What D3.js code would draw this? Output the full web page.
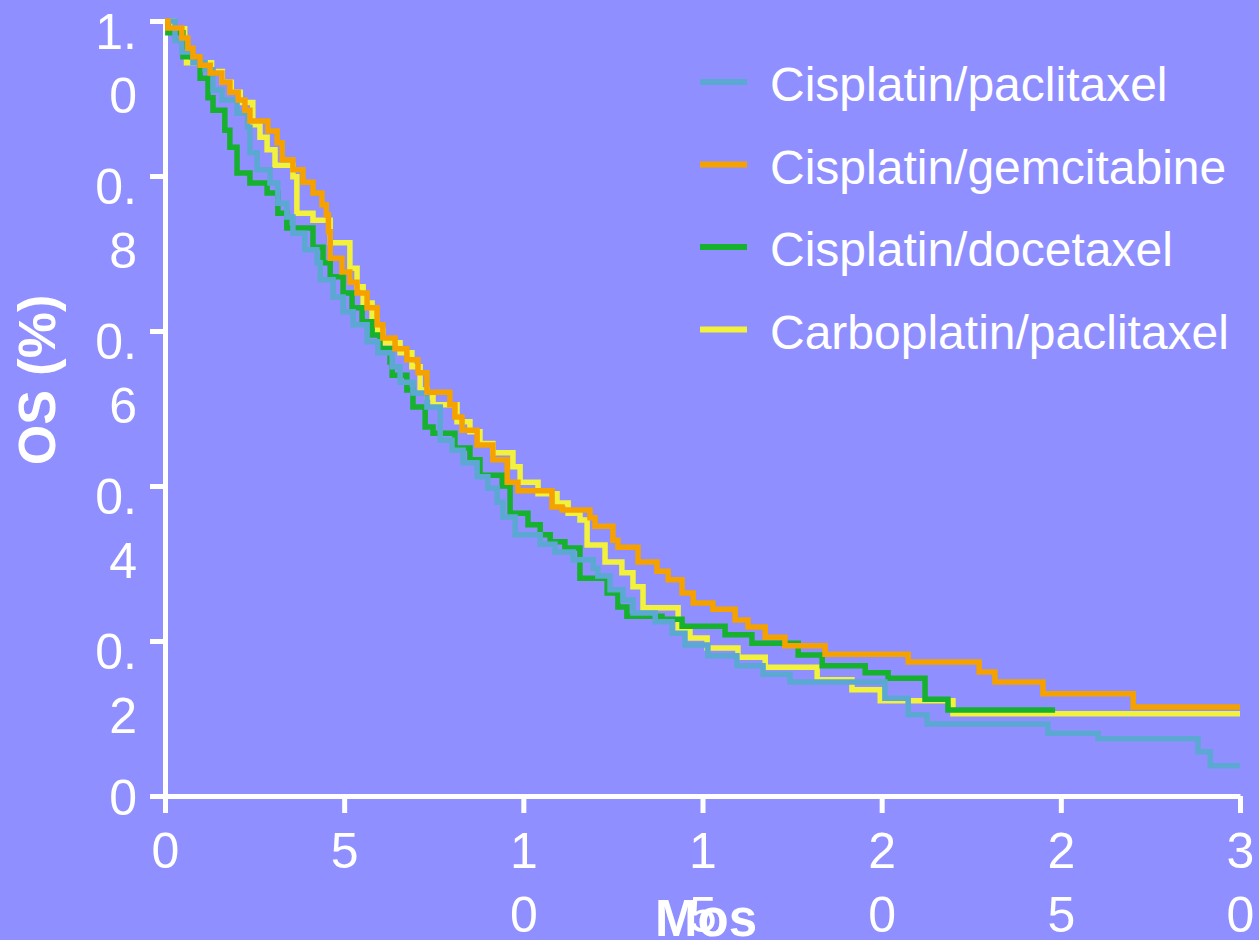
<!DOCTYPE html>
<html>
<head>
<meta charset="utf-8">
<script src="https://cdn.jsdelivr.net/npm/d3@7"></script>
<style>
    body { margin: 0; background: #8f8fff; }
    svg { display: block; }
</style>
</head>
<body>
<div id="chart"></div>
<script>
// OS Kaplan-Meier curves as [month, survival] steps

let seriesNames = ["Cisplatin/paclitaxel", "Cisplatin/gemcitabine", "Cisplatin/docetaxel", "Carboplatin/paclitaxel"];
let seriesColors = ["#5ba9d2", "#f5a100", "#16b12d", "#f2f23c"];
let seriesEnd = [30, 30, 24.84, 30];

let cisPacli = [
    [0.28, 0.975], [0.47, 0.960], [0.78, 0.946], [1.12, 0.937], [1.34, 0.911], [1.59, 0.898],
    [2.01, 0.881], [2.30, 0.863], [2.37, 0.830], [2.57, 0.808], [2.93, 0.791], [3.15, 0.765],
    [3.40, 0.747], [3.57, 0.726], [3.90, 0.705], [4.24, 0.688], [4.33, 0.666], [4.69, 0.644],
    [4.97, 0.625], [5.25, 0.608], [5.64, 0.586], [5.94, 0.572], [6.34, 0.554], [6.56, 0.534],
    [6.92, 0.520], [7.31, 0.502], [7.68, 0.459], [8.01, 0.446], [8.32, 0.430], [8.71, 0.412],
    [9.01, 0.397], [9.27, 0.379], [9.43, 0.360], [9.77, 0.337], [10.47, 0.325], [10.88, 0.315],
    [11.39, 0.305], [11.95, 0.294], [12.08, 0.284], [12.42, 0.266], [12.78, 0.253], [13.06, 0.236],
    [13.68, 0.225], [14.15, 0.210], [14.51, 0.195], [15.15, 0.181], [15.96, 0.168], [16.69, 0.157],
    [17.44, 0.147], [20.09, 0.126], [20.74, 0.105], [21.27, 0.093], [24.64, 0.081], [26.04, 0.074],
    [28.83, 0.057], [29.17, 0.039]
];

let cisGem = [
    [0.08, 0.991], [0.47, 0.978], [0.64, 0.965], [0.78, 0.954], [0.98, 0.943], [1.26, 0.933],
    [1.59, 0.921], [1.81, 0.908], [2.04, 0.898], [2.23, 0.885], [2.37, 0.871], [2.87, 0.858],
    [3.13, 0.843], [3.27, 0.821], [3.57, 0.808], [3.85, 0.792], [4.13, 0.778], [4.38, 0.763],
    [4.50, 0.750], [4.56, 0.728], [4.61, 0.694], [4.94, 0.676], [5.16, 0.663], [5.36, 0.649],
    [5.64, 0.630], [5.92, 0.608], [6.08, 0.591], [6.42, 0.577], [6.75, 0.563], [7.06, 0.546],
    [7.31, 0.521], [7.95, 0.505], [8.09, 0.489], [8.29, 0.472], [8.71, 0.453], [9.15, 0.434],
    [9.55, 0.405], [9.85, 0.394], [10.80, 0.373], [11.08, 0.369], [11.86, 0.359], [12.00, 0.348],
    [12.50, 0.330], [12.64, 0.321], [13.20, 0.302], [13.73, 0.290], [14.04, 0.279], [14.43, 0.262],
    [14.74, 0.249], [15.29, 0.241], [15.91, 0.227], [16.27, 0.218], [16.75, 0.205], [17.30, 0.194],
    [18.42, 0.183], [20.74, 0.173], [22.72, 0.160], [23.16, 0.147], [24.50, 0.132], [27.02, 0.115]
];

let cisDoce = [
    [0.08, 0.985], [0.50, 0.954], [0.98, 0.926], [1.20, 0.901], [1.34, 0.885], [1.67, 0.859],
    [1.81, 0.837], [2.01, 0.804], [2.37, 0.791], [2.85, 0.778], [3.15, 0.752], [3.40, 0.733],
    [4.13, 0.708], [4.41, 0.688], [4.61, 0.670], [4.97, 0.649], [5.22, 0.630], [5.50, 0.612],
    [5.78, 0.595], [6.00, 0.577], [6.28, 0.560], [6.34, 0.543], [6.75, 0.524], [6.92, 0.502],
    [7.26, 0.476], [7.48, 0.468], [8.09, 0.449], [8.51, 0.434], [8.79, 0.414], [9.41, 0.400],
    [9.63, 0.365], [10.13, 0.350], [10.47, 0.337], [10.75, 0.328], [11.16, 0.320], [11.58, 0.281],
    [12.34, 0.262], [12.64, 0.244], [12.89, 0.232], [13.87, 0.228], [14.43, 0.219], [15.63, 0.208],
    [16.38, 0.197], [17.67, 0.182], [18.34, 0.168], [19.54, 0.159], [20.18, 0.152], [21.21, 0.125],
    [21.85, 0.111]
];

let carboPacli = [
    [0.25, 0.990], [0.55, 0.972], [0.60, 0.946], [1.30, 0.935], [1.60, 0.921], [1.85, 0.908],
    [2.10, 0.895], [2.45, 0.866], [2.65, 0.850], [2.85, 0.834], [3.07, 0.814], [3.57, 0.799],
    [3.68, 0.752], [4.13, 0.743], [4.61, 0.714], [5.16, 0.681], [5.36, 0.657], [5.53, 0.636],
    [5.78, 0.614], [5.92, 0.601], [6.08, 0.585], [6.56, 0.572], [6.89, 0.554], [7.12, 0.524],
    [7.31, 0.515], [7.48, 0.505], [8.15, 0.483], [8.51, 0.470], [8.79, 0.455], [9.15, 0.443],
    [9.71, 0.425], [9.91, 0.405], [10.41, 0.390], [10.94, 0.378], [11.25, 0.365], [11.58, 0.356],
    [11.78, 0.324], [12.28, 0.302], [12.75, 0.288], [13.06, 0.270], [13.34, 0.243], [14.32, 0.214],
    [14.65, 0.204], [15.13, 0.191], [15.99, 0.179], [16.75, 0.166], [18.20, 0.150], [19.17, 0.137],
    [19.96, 0.123], [21.99, 0.106]
];

let seriesSteps = [cisPacli, cisGem, cisDoce, carboPacli];
// drawing order: yellow under green under blue under orange
let drawOrder = [3, 2, 0, 1];

let xTickValues = [0, 5, 10, 15, 20, 25, 30];
let xTickLines = [["0"], ["5"], ["1", "0"], ["1", "5"], ["2", "0"], ["2", "5"], ["3", "0"]];
let yTickValues = [0, 0.2, 0.4, 0.6, 0.8, 1.0];
let yTickLines = [["0"], ["0.", "2"], ["0.", "4"], ["0.", "6"], ["0.", "8"], ["1.", "0"]];

let xTitle = "Mos";
let yTitle = "OS (%)";

let width = 1259,
    height = 940;

let svg = d3.select("#chart")
    .append("svg")
    .attr("width", width)
    .attr("height", height);

svg.append("rect")
    .attr("width", width)
    .attr("height", height)
    .attr("fill", "#8f8fff");

let xScale = d3.scaleLinear().domain([0, 30]).range([165, 1240]);
let yScale = d3.scaleLinear().domain([0, 1]).range([796, 21]);

let font = "'Liberation Sans', Arial, sans-serif";

// axes
let xAxisG = svg.append("g")
    .attr("transform", "translate(0,796)")
    .call(d3.axisBottom(xScale).tickValues(xTickValues).tickSize(17).tickSizeOuter(0));

let yAxisG = svg.append("g")
    .attr("transform", "translate(165,0)")
    .call(d3.axisLeft(yScale).tickValues(yTickValues).tickSize(15).tickSizeOuter(0));

[xAxisG, yAxisG].forEach(function (g) {
    g.attr("font-family", font).attr("font-size", 50);
    g.selectAll("path, line").attr("stroke", "#fff").attr("stroke-width", 5);
    g.selectAll("text").attr("fill", "#fff");
});

xAxisG.selectAll(".tick text").each(function (d) {
    let lines = xTickLines[xTickValues.indexOf(d)];
    let t = d3.select(this).text(null).attr("dy", null).attr("y", null).attr("text-anchor", "middle");
    lines.forEach(function (s, j) {
        t.append("tspan").attr("x", 0).attr("y", 72 + j * 64).text(s);
    });
});

yAxisG.selectAll(".tick text").each(function (d) {
    let lines = yTickLines[yTickValues.indexOf(d)];
    let t = d3.select(this).text(null).attr("dy", null).attr("x", null).attr("text-anchor", "end");
    lines.forEach(function (s, j) {
        t.append("tspan").attr("x", -28).attr("y", (lines.length > 1 ? 27 : 18) + j * 64).text(s);
    });
});

// axis titles
svg.append("text")
    .attr("x", 706)
    .attr("y", 936)
    .attr("text-anchor", "middle")
    .attr("font-family", font)
    .attr("font-weight", "bold")
    .attr("font-size", 51)
    .attr("fill", "#fff")
    .text(xTitle);

svg.append("text")
    .attr("transform", "translate(55,380) rotate(-90)")
    .attr("text-anchor", "middle")
    .attr("font-family", font)
    .attr("font-weight", "bold")
    .attr("font-size", 52)
    .attr("fill", "#fff")
    .text(yTitle);

// curves
let line = d3.line()
    .curve(d3.curveStepAfter)
    .x(d => xScale(d[0]))
    .y(d => yScale(d[1]));

drawOrder.forEach(function (i) {
    let steps = seriesSteps[i];
    let pts = [[0, 1]].concat(steps, [[seriesEnd[i], steps[steps.length - 1][1]]]);
    svg.append("path")
        .datum(pts)
        .attr("fill", "none")
        .attr("stroke", seriesColors[i])
        .attr("stroke-width", 5.5)
        .attr("stroke-linejoin", "miter")
        .attr("d", line);
});

// legend
let legend = svg.append("g")
    .attr("transform", "translate(700,82)");

let rows = legend.selectAll("g")
    .data(seriesNames)
    .enter().append("g")
    .attr("transform", (d, i) => "translate(0," + i * 82.5 + ")");

rows.append("line")
    .attr("x1", 0)
    .attr("x2", 47)
    .attr("stroke", (d, i) => seriesColors[i])
    .attr("stroke-width", 6);

rows.append("text")
    .attr("x", 70)
    .attr("y", 19)
    .attr("font-family", font)
    .attr("font-size", 48)
    .attr("fill", "#fff")
    .text(d => d);
</script>
</body>
</html>
